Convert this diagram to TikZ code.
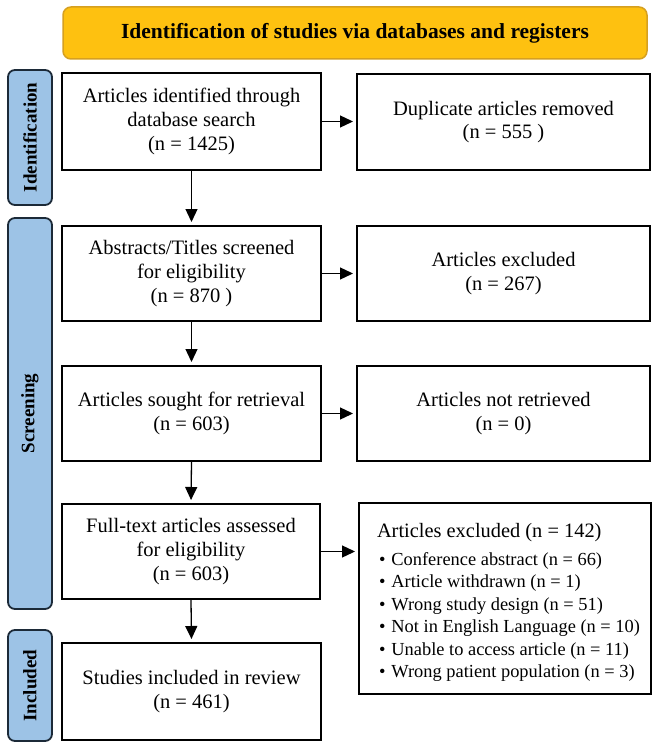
\documentclass[tikz,border=0pt]{standalone}
\usepackage{fontspec}
\setmainfont{Liberation Serif}
\usetikzlibrary{arrows.meta}
\definecolor{gold}{HTML}{FEC110}
\definecolor{goldedge}{HTML}{D6A020}
\definecolor{labelblue}{HTML}{9DC3E6}
\definecolor{labeledge}{HTML}{1C2A38}
\begin{document}
\begin{tikzpicture}[x=1pt,y=-1pt,
  flowbox/.style={draw=black, line width=2pt, fill=white, align=center, inner sep=0pt,
    font=\fontsize{20.5}{23.8}\selectfont},
  leftbox/.style={flowbox, minimum width=259pt},
  rightbox/.style={flowbox, minimum width=293pt},
  sidelab/.style={draw=labeledge, line width=1.8pt, fill=labelblue, rounded corners=7pt,
    minimum height=44pt, inner sep=0pt, rotate=90,
    font=\fontsize{19}{22}\selectfont\bfseries},
  titlebox/.style={draw=goldedge, line width=1.5pt, fill=gold, rounded corners=8pt,
    minimum width=584pt, minimum height=52pt, inner sep=0pt,
    font=\fontsize{21.5}{24}\selectfont\bfseries},
  conn/.style={line width=1.3pt, -{Triangle[length=13pt,width=12pt]}, shorten >=3pt}
]
\useasboundingbox (0,0) rectangle (656,749);

\node[titlebox] (title) at (355,33) {Identification of studies via databases and registers};

\node[sidelab, minimum width=135pt] (lid) at (30,137.5) {Identification};
\node[sidelab, minimum width=391pt] (lsc) at (30,413.5) {Screening};
\node[sidelab, minimum width=111pt] (lin) at (30,685.5) {Included};

\node[leftbox, minimum height=97pt] (b1) at (191.5,121.5) {Articles identified through\\database search\\(n = 1425)};
\node[rightbox, minimum height=96pt] (d1) at (503.5,122) {Duplicate articles removed\\(n = 555 )};

\node[leftbox, minimum height=95pt] (b2) at (191.5,273.5) {Abstracts/Titles screened\\for eligibility\\(n = 870 )};
\node[rightbox, minimum height=95pt] (d2) at (503.5,273.5) {Articles excluded\\(n = 267)};

\node[leftbox, minimum height=95pt] (b3) at (191.5,413.5) {Articles sought for retrieval\\(n = 603)};
\node[rightbox, minimum height=95pt] (d3) at (503.5,413.5) {Articles not retrieved\\(n = 0)};

\node[leftbox, minimum height=95pt, minimum width=258pt] (b4) at (191,551.5) {Full-text articles assessed\\for eligibility\\(n = 603)};
\node[flowbox, minimum width=292pt, minimum height=191pt] (d4) at (505,598.5) {%
  \begin{minipage}{256pt}\raggedright
  \vspace*{8pt}%
  \fontsize{20.4}{23.5}\selectfont Articles excluded (n = 142)\par\vspace{5.5pt}
  \fontsize{18.4}{22.5}\selectfont
  \mbox{\hspace*{2pt}\textbullet\hspace{6pt}Conference abstract (n = 66)}\par
  \mbox{\hspace*{2pt}\textbullet\hspace{6pt}Article withdrawn (n = 1)}\par
  \mbox{\hspace*{2pt}\textbullet\hspace{6pt}Wrong study design (n = 51)}\par
  \mbox{\hspace*{2pt}\textbullet\hspace{6pt}Not in English Language (n = 10)}\par
  \mbox{\hspace*{2pt}\textbullet\hspace{6pt}Unable to access article (n = 11)}\par
  \mbox{\hspace*{2pt}\textbullet\hspace{6pt}Wrong patient population (n = 3)}\par
  \end{minipage}};

\node[leftbox, minimum height=97pt] (b5) at (191.5,691.5) {Studies included in review\\(n = 461)};

\draw[conn] (b1.south) -- (b2.north);
\draw[conn] (b2.south) -- (b3.north);
\draw[conn] (b3.south) -- (b4.north);
\draw[conn] (b4.south) -- (b5.north);

\draw[conn] (b1.east) -- (b1.east -| d1.west);
\draw[conn] (b2.east) -- (b2.east -| d2.west);
\draw[conn] (b3.east) -- (b3.east -| d3.west);
\draw[conn] (b4.east) -- (b4.east -| d4.west);
\end{tikzpicture}
\end{document}
